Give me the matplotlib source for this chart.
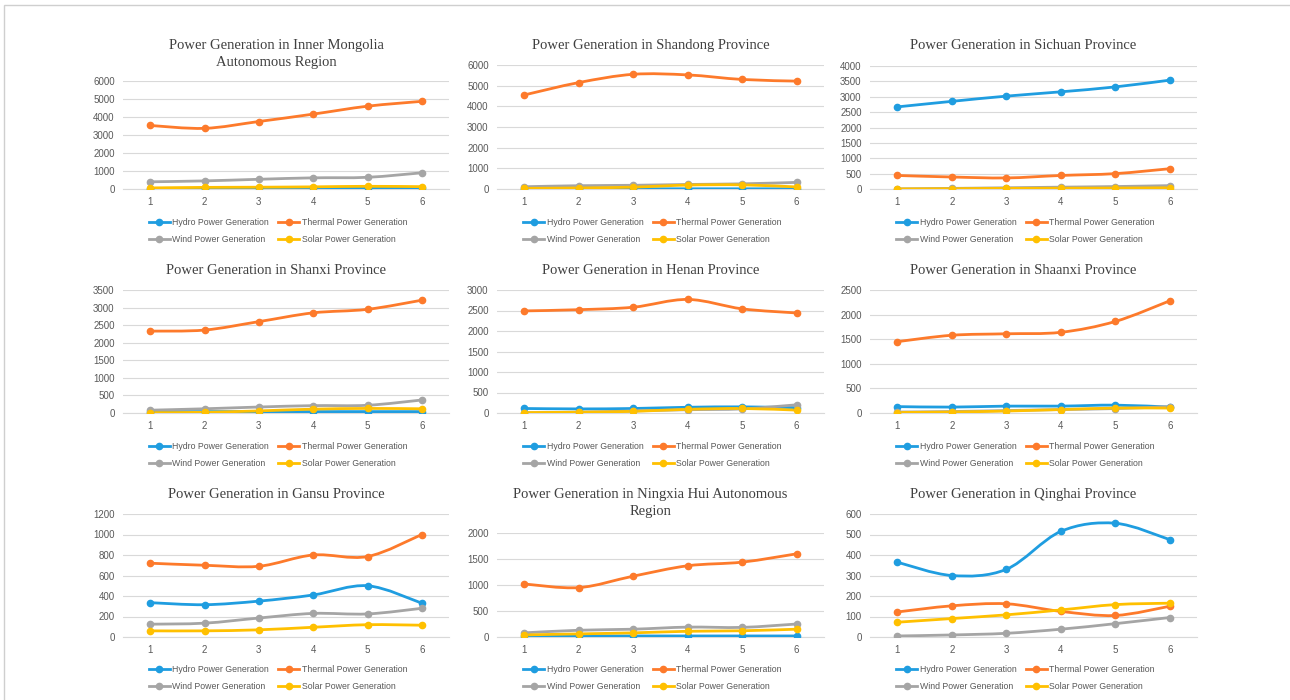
import numpy as np
import matplotlib.pyplot as plt
from matplotlib.path import Path
from matplotlib.patches import PathPatch, Rectangle
from matplotlib.lines import Line2D

# ---------------------------
# data
# ---------------------------
periods = [1, 2, 3, 4, 5, 6]
series_names = ["Hydro Power Generation", "Thermal Power Generation",
                "Wind Power Generation", "Solar Power Generation"]
colors = ["#1f9de0", "#fd7a2b", "#a5a5a5", "#ffc000"]

titles = [
    "Power Generation in Inner Mongolia\nAutonomous Region",
    "Power Generation in Shandong Province",
    "Power Generation in Sichuan Province",
    "Power Generation in Shanxi Province",
    "Power Generation in Henan Province",
    "Power Generation in Shaanxi Province",
    "Power Generation in Gansu Province",
    "Power Generation in Ningxia Hui Autonomous\nRegion",
    "Power Generation in Qinghai Province",
]

# hydro, thermal, wind, solar
inner_mongolia = [[20, 25, 30, 30, 40, 40],
                  [3530, 3370, 3750, 4160, 4600, 4870],
                  [400, 450, 540, 620, 650, 900],
                  [60, 90, 100, 120, 150, 130]]
shandong = [[10, 10, 10, 10, 10, 10],
            [4550, 5150, 5550, 5520, 5300, 5220],
            [110, 160, 180, 220, 250, 320],
            [30, 50, 90, 190, 200, 100]]
sichuan = [[2670, 2850, 3020, 3160, 3320, 3540],
           [440, 390, 360, 440, 500, 660],
           [5, 20, 40, 60, 80, 110],
           [2, 10, 20, 25, 30, 40]]
shanxi = [[40, 40, 40, 40, 40, 40],
          [2330, 2360, 2600, 2850, 2950, 3210],
          [80, 120, 170, 210, 220, 370],
          [10, 20, 60, 110, 130, 120]]
henan = [[110, 100, 110, 140, 150, 130],
         [2490, 2520, 2580, 2770, 2540, 2440],
         [5, 20, 50, 80, 100, 200],
         [10, 20, 40, 90, 110, 70]]
shaanxi = [[130, 120, 140, 140, 160, 120],
           [1450, 1580, 1610, 1640, 1860, 2280],
           [20, 30, 50, 70, 90, 130],
           [10, 20, 40, 70, 100, 100]]
gansu = [[335, 315, 350, 410, 500, 330],
         [720, 700, 690, 800, 785, 1000],
         [125, 135, 185, 230, 225, 280],
         [60, 60, 70, 95, 120, 115]]
ningxia = [[20, 20, 20, 20, 20, 20],
           [1020, 950, 1170, 1370, 1440, 1600],
           [80, 130, 150, 190, 185, 250],
           [40, 60, 80, 110, 120, 150]]
qinghai = [[365, 300, 330, 515, 555, 475],
           [122, 152, 162, 125, 105, 150],
           [5, 10, 18, 38, 65, 95],
           [72, 90, 108, 132, 158, 165]]

regions = [inner_mongolia, shandong, sichuan, shanxi, henan, shaanxi,
           gansu, ningxia, qinghai]
y_max = [6000, 6000, 4000, 3500, 3000, 2500, 1200, 2000, 600]
y_step = [1000, 1000, 500, 500, 500, 500, 200, 500, 100]

# ---------------------------
# layout (pixels in a 1290x700 canvas)
# ---------------------------
W, H = 1290, 700
col_x = [(123, 449), (497, 824), (870, 1197)]
plot_tops = [81, 65, 66, 290, 290, 290, 514, 533, 514]
row_bottom = [189, 413, 637]
row_title = [45, 270, 494]
row_legend = [231, 455, 678]

plt.rcParams['font.family'] = ['Liberation Sans', 'DejaVu Sans']
fig = plt.figure(figsize=(W / 100, H / 100), dpi=100)
# page frame: only top and left edges fall inside the picture
fig.patches.append(Rectangle((4 / W, -0.05), 1.1, 1.05 - 5 / H,
                             transform=fig.transFigure, fill=False,
                             edgecolor="#cfcfcf", linewidth=1))


def smooth_path(xs, ys):
    # cubic bezier through the points (excel-like smoothed line)
    xs = np.asarray(xs, float)
    ys = np.asarray(ys, float)
    pts = np.column_stack([xs, ys])
    ext = np.vstack([pts[0], pts, pts[-1]])
    verts = [pts[0]]
    codes = [Path.MOVETO]
    for i in range(len(pts) - 1):
        p0, p1, p2, p3 = ext[i], ext[i + 1], ext[i + 2], ext[i + 3]
        verts += [p1 + (p2 - p0) / 6, p2 - (p3 - p1) / 6, p2]
        codes += [Path.CURVE4] * 3
    return Path(verts, codes)


for k, data in enumerate(regions):
    r, c = divmod(k, 3)
    x0, x1 = col_x[c]
    top, bot = plot_tops[k], row_bottom[r]
    ax = fig.add_axes([x0 / W, 1 - bot / H, (x1 - x0) / W, (bot - top) / H])

    for vals, col in zip(data, colors):
        ax.add_patch(PathPatch(smooth_path(periods, vals), facecolor='none',
                               edgecolor=col, linewidth=2, zorder=3,
                               capstyle='round'))
        ax.plot(periods, vals, 'o', color=col, ms=4.5, zorder=4)

    ax.set_xlim(0.5, 6.5)
    ax.set_ylim(0, y_max[k])
    ax.set_xticks(periods)
    ax.set_yticks(np.arange(0, y_max[k] + 1, y_step[k]))
    ax.grid(axis='y', color='#d9d9d9', linewidth=0.8)
    ax.set_axisbelow(True)
    for s in ['top', 'right', 'left']:
        ax.spines[s].set_visible(False)
    ax.spines['bottom'].set_color('#d9d9d9')
    ax.tick_params(length=0, labelsize=7, labelcolor='#595959', pad=6)

    cx = ((x0 + x1) / 2 - 10) / W
    fig.text(cx, 1 - (row_title[r] - 6) / H, titles[k], ha='center', va='top',
             fontsize=10.5, color='#404040', family='Liberation Serif',
             linespacing=1.4)

    handles = [Line2D([], [], color=colors[i], lw=2, marker='o', ms=4.5)
               for i in [0, 2, 1, 3]]
    labels = [series_names[i] for i in [0, 2, 1, 3]]
    fig.legend(handles, labels, ncol=2, loc='center',
               bbox_to_anchor=(cx + 2 / W, 1 - row_legend[r] / H),
               frameon=False, fontsize=6.3, labelcolor='#595959',
               handlelength=2.4, handletextpad=0.25, columnspacing=1.1,
               labelspacing=1.0)

plt.savefig("out.png", dpi=100)
